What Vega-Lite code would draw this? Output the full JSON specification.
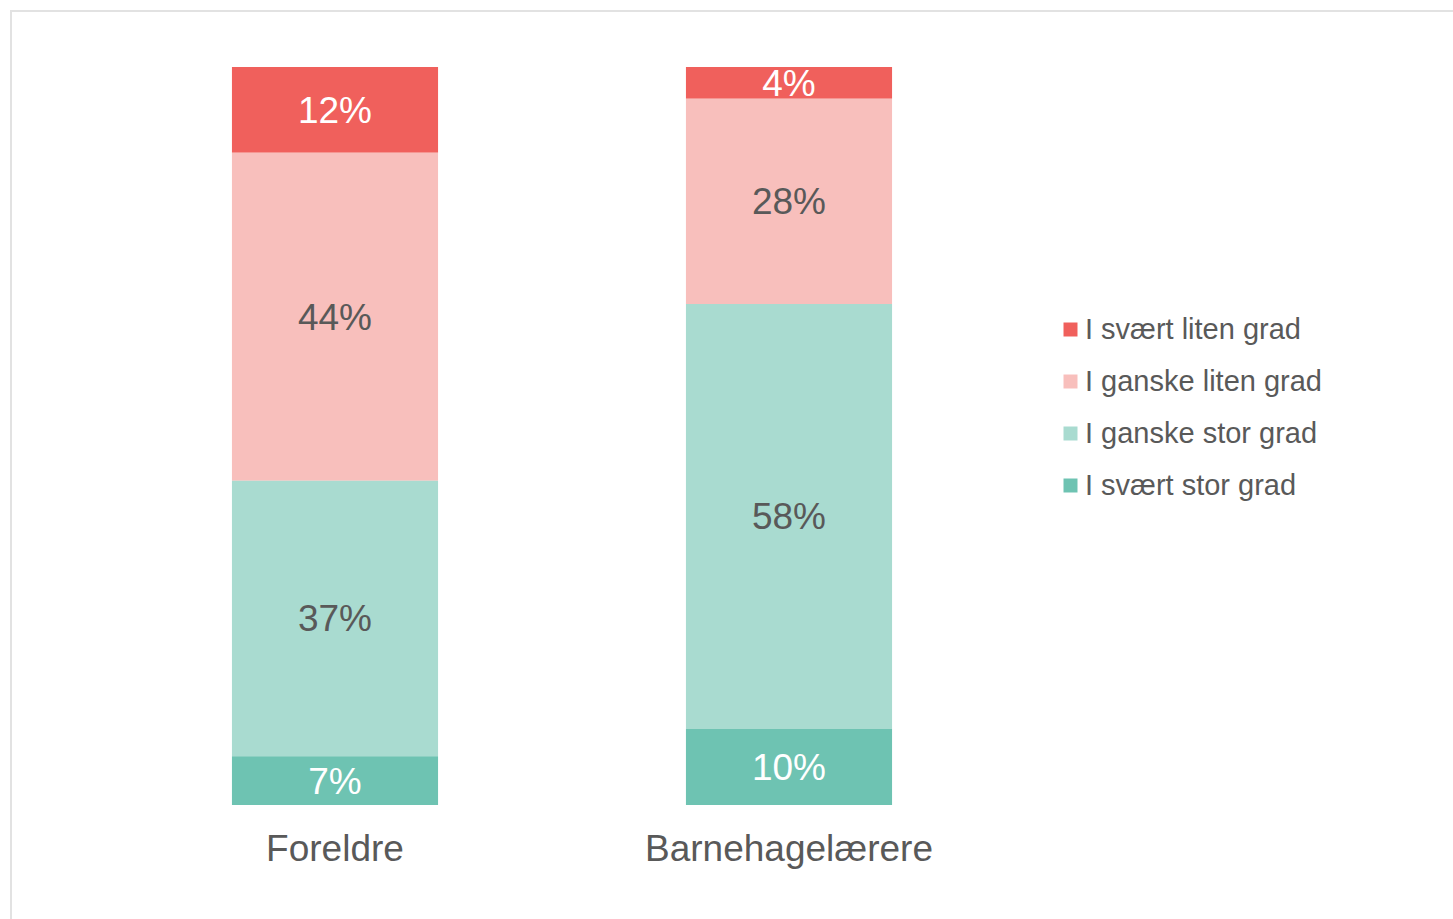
{
  "$schema": "https://vega.github.io/schema/vega-lite/v6.json",
  "autosize": {"type": "none"},
  "padding": {"left": 11, "top": 11, "right": 0, "bottom": 0},
  "width": 1460,
  "height": 930,
  "background": "white",
  "config": {
    "view": {"stroke": "#e2e2e2", "strokeWidth": 2},
    "font": "Liberation Sans"
  },
  "data": {
    "values": [
      {"group": "Foreldre", "category": "I svært liten grad", "value": 0.116, "order": 4},
      {"group": "Foreldre", "category": "I ganske liten grad", "value": 0.444, "order": 3},
      {"group": "Foreldre", "category": "I ganske stor grad", "value": 0.373, "order": 2},
      {"group": "Foreldre", "category": "I svært stor grad", "value": 0.066, "order": 1},
      {"group": "Barnehagelærere", "category": "I svært liten grad", "value": 0.043, "order": 4},
      {"group": "Barnehagelærere", "category": "I ganske liten grad", "value": 0.278, "order": 3},
      {"group": "Barnehagelærere", "category": "I ganske stor grad", "value": 0.576, "order": 2},
      {"group": "Barnehagelærere", "category": "I svært stor grad", "value": 0.103, "order": 1}
    ]
  },
  "transform": [
    {"stack": "value", "groupby": ["group"], "offset": "normalize", "sort": [{"field": "order", "order": "ascending"}], "as": ["v0", "v1"]},
    {"calculate": "(datum.v0 + datum.v1) / 2", "as": "vmid"}
  ],
  "encoding": {
    "x": {
      "field": "group",
      "type": "nominal",
      "sort": ["Foreldre", "Barnehagelærere"],
      "scale": {"range": [97, 1005], "paddingInner": 0.546, "paddingOuter": 0.273},
      "axis": {
        "title": null,
        "orient": "bottom",
        "offset": -137,
        "domain": false,
        "ticks": false,
        "labelAngle": 0,
        "labelFontSize": 37,
        "labelColor": "#595959",
        "labelPadding": 27,
        "labelLimit": 0,
        "labelFont": "Liberation Sans"
      }
    }
  },
  "layer": [
    {
      "mark": {"type": "bar"},
      "encoding": {
        "y": {
          "field": "v0",
          "type": "quantitative",
          "scale": {"domain": [0, 1], "range": [794, 56]},
          "axis": null
        },
        "y2": {"field": "v1"},
        "color": {
          "field": "category",
          "type": "nominal",
          "sort": ["I svært liten grad", "I ganske liten grad", "I ganske stor grad", "I svært stor grad"],
          "scale": {
            "domain": ["I svært liten grad", "I ganske liten grad", "I ganske stor grad", "I svært stor grad"],
            "range": ["#F0605C", "#F8BFBC", "#A9DBD0", "#6EC3B2"]
          },
          "legend": {
            "title": null,
            "orient": "none",
            "legendX": 1045,
            "legendY": 304,
            "padding": 0,
            "symbolType": "square",
            "symbolSize": 196,
            "symbolStrokeWidth": 0,
            "labelFontSize": 29,
            "labelColor": "#595959",
            "labelFont": "Liberation Sans",
            "labelOffset": 0,
            "rowPadding": 22,
            "labelLimit": 400
          }
        }
      }
    },
    {
      "mark": {"type": "text", "fontSize": 37, "baseline": "middle", "align": "center", "dy": 2, "font": "Liberation Sans"},
      "encoding": {
        "y": {"field": "vmid", "type": "quantitative"},
        "text": {"field": "value", "type": "quantitative", "format": ".0%"},
        "color": {
          "condition": {"test": "datum.category === 'I svært liten grad' || datum.category === 'I svært stor grad'", "value": "#ffffff"},
          "value": "#595959"
        }
      }
    }
  ]
}
